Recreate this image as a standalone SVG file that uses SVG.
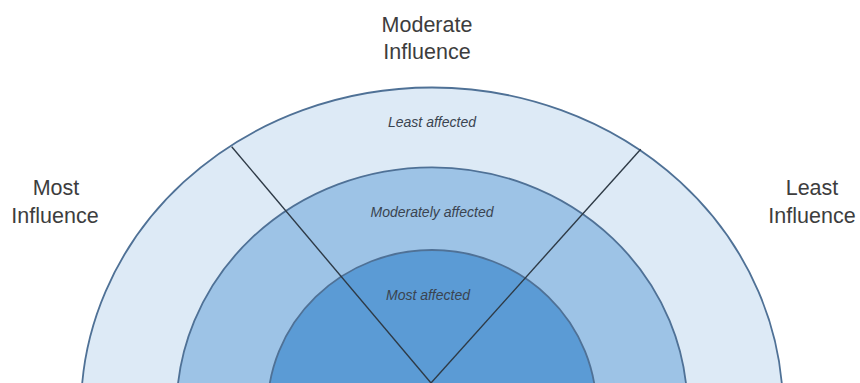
<svg xmlns="http://www.w3.org/2000/svg" width="860" height="383" viewBox="0 0 860 383">
<style>
.ring{stroke:#4f7196;stroke-width:1.8}
.outer{fill:#ddeaf6}
.middle{fill:#9dc3e6}
.inner{fill:#5b9bd5}
.div{stroke:#2e3a46;stroke-width:1.4;fill:none}
.head{font-family:"Liberation Sans",Arial,sans-serif;font-size:21.5px;fill:#3d3d3d;text-anchor:middle}
.lab{font-family:"Liberation Sans",Arial,sans-serif;font-size:14px;font-style:italic;fill:#3a4450;text-anchor:middle}
</style>
<rect width="860" height="383" fill="#ffffff"/>
<g id="ring-outer"><ellipse class="ring outer" cx="432" cy="410" rx="351" ry="322.5"/></g>
<g id="ring-middle"><ellipse class="ring middle" cx="432" cy="410" rx="255.5" ry="242.7"/></g>
<g id="ring-inner"><ellipse class="ring inner" cx="432" cy="410" rx="164.5" ry="160"/></g>
<g id="connectors">
<line class="div" x1="231.7" y1="146.7" x2="431" y2="383"/>
<line class="div" x1="640.7" y1="149.3" x2="431" y2="383"/>
</g>
<g id="label-least-affected"><text class="lab" x="432" y="127">Least affected</text></g>
<g id="label-moderately-affected"><text class="lab" x="432" y="217">Moderately affected</text></g>
<g id="label-most-affected"><text class="lab" x="428" y="300">Most affected</text></g>
<g id="heading-moderate"><text class="head" x="427" y="32">Moderate</text><text class="head" x="427" y="59">Influence</text></g>
<g id="heading-most"><text class="head" x="56" y="195">Most</text><text class="head" x="55" y="223">Influence</text></g>
<g id="heading-least"><text class="head" x="812" y="195">Least</text><text class="head" x="812" y="223">Influence</text></g>
</svg>
